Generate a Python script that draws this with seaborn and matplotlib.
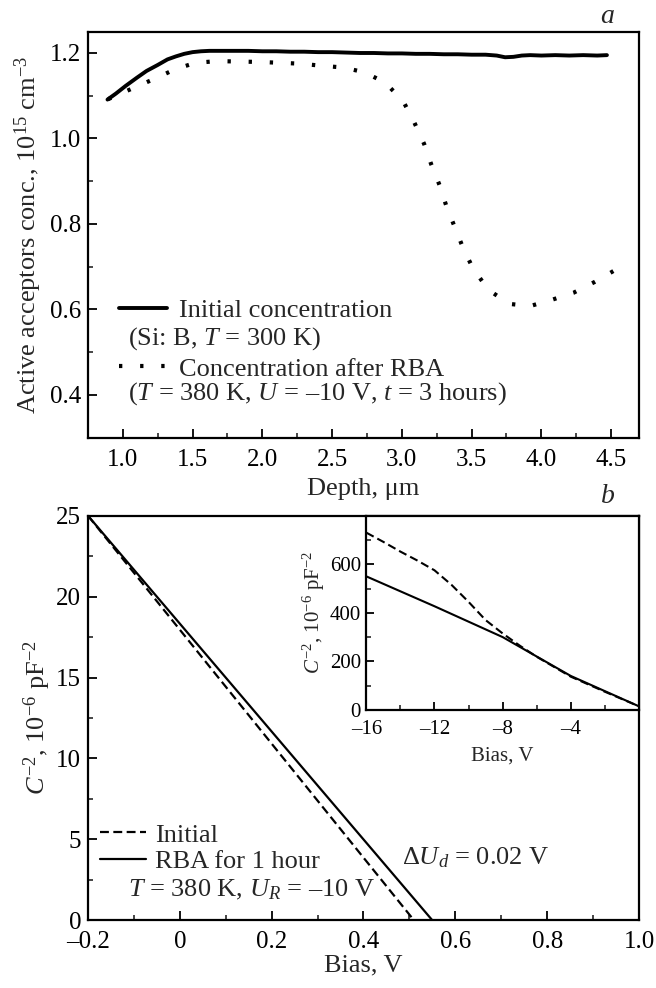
import numpy as np
import pandas as pd
import matplotlib
matplotlib.use("Agg")
import matplotlib.pyplot as plt
from matplotlib.ticker import MultipleLocator
import seaborn as sns

# ---------------- data: panel a ----------------
depth_init = [0.89, 0.95, 1.02, 1.10, 1.17, 1.25, 1.32, 1.38, 1.44, 1.50, 1.56, 1.62, 1.70,
              1.80, 1.90, 2.00, 2.10, 2.20, 2.30, 2.40, 2.50, 2.60, 2.70, 2.80, 2.90,
              3.00, 3.10, 3.20, 3.30, 3.40, 3.50, 3.60, 3.68, 3.74, 3.80, 3.86, 3.92,
              4.00, 4.10, 4.20, 4.30, 4.40, 4.47]
conc_init = [1.091, 1.105, 1.123, 1.142, 1.158, 1.172, 1.185, 1.192, 1.198, 1.202, 1.204, 1.205, 1.205,
             1.205, 1.205, 1.204, 1.204, 1.203, 1.203, 1.202, 1.202, 1.201, 1.200, 1.200, 1.199,
             1.199, 1.198, 1.198, 1.197, 1.197, 1.196, 1.196, 1.194, 1.190, 1.191, 1.194, 1.195,
             1.194, 1.195, 1.194, 1.195, 1.194, 1.195]
depth_rba = [0.895, 1.075, 1.23, 1.375, 1.52, 1.678, 1.83, 1.98, 2.13, 2.27, 2.43, 2.58, 2.73,
             2.88, 3.01, 3.09, 3.16, 3.21, 3.27, 3.32, 3.38, 3.44, 3.51, 3.62, 3.77, 3.92,
             4.07, 4.23, 4.38, 4.57]
conc_rba = [1.092, 1.118, 1.140, 1.162, 1.177, 1.181, 1.180, 1.179, 1.177, 1.175, 1.170, 1.166, 1.155,
            1.131, 1.087, 1.037, 0.987, 0.940, 0.891, 0.841, 0.792, 0.743, 0.696, 0.646, 0.613, 0.608,
            0.622, 0.639, 0.664, 0.700]
xticks_a = [1.0, 1.5, 2.0, 2.5, 3.0, 3.5, 4.0, 4.5]
yticks_a = [0.4, 0.6, 0.8, 1.0, 1.2]

# ---------------- data: panel b ----------------
bias_init = [-0.2, 0.51]
c2_init = [25.0, 0.0]
bias_rba = [-0.2, 0.55]
c2_rba = [25.0, 0.0]
xticks_b = [-0.2, 0.0, 0.2, 0.4, 0.6, 0.8, 1.0]
xticklabels_b = ["\u20130.2", "0", "0.2", "0.4", "0.6", "0.8", "1.0"]
yticks_b = [0, 5, 10, 15, 20, 25]

# inset
ibias_init = [-16, -15, -14, -13, -12, -11, -10, -9, -8, -7, -6, -5, -4, -2, 0]
ic2_init = [730, 692, 652, 615, 575, 515, 445, 370, 315, 265, 219, 178, 137, 75, 15]
ibias_rba = [-16, -12, -8, -4, 0]
ic2_rba = [550, 427, 300, 140, 15]
xticks_in = [-16, -12, -8, -4]
xticklabels_in = ["\u201316", "\u201312", "\u20138", "\u20134"]
yticks_in = [0, 200, 400, 600]

sns.set_theme(style="ticks")
plt.rcParams["font.family"] = ["Liberation Serif", "DejaVu Serif"]
plt.rcParams["mathtext.fontset"] = "custom"
plt.rcParams["mathtext.rm"] = "Liberation Serif"
plt.rcParams["mathtext.it"] = "Liberation Serif:italic"
plt.rcParams["mathtext.bf"] = "Liberation Serif:bold"
plt.rcParams["axes.unicode_minus"] = False

FS = 19
FT = 18
FI = 15
fig = plt.figure(figsize=(6.56, 9.88), dpi=100)
ax1 = fig.add_axes([0.1341, 0.557, 0.840, 0.411])
ax2 = fig.add_axes([0.1341, 0.0685, 0.840, 0.4095])
axin = fig.add_axes([0.5584, 0.2814, 0.4157, 0.1967])

def style(ax, fs, major_len=6.5, minor_len=3.6):
    for s in ax.spines.values():
        s.set_linewidth(1.6)
        s.set_color("black")
    ax.tick_params(which="major", direction="in", length=major_len, width=1.3,
                   labelsize=fs, colors="black", top=False, right=False, pad=5)
    ax.tick_params(which="minor", direction="in", length=minor_len, width=1.2,
                   top=False, right=False)
    ax.tick_params(axis="x", which="major", pad=8)

# ---- panel a ----
dfa1 = pd.DataFrame({"x": depth_init, "y": conc_init})
dfa2 = pd.DataFrame({"x": depth_rba, "y": conc_rba})
sns.lineplot(data=dfa1, x="x", y="y", ax=ax1, color="black", lw=2.8, sort=False,
             label="Initial concentration")
sns.lineplot(data=dfa2, x="x", y="y", ax=ax1, color="black", lw=3.0, sort=False,
             linestyle=(0, (0.8, 4.27)), label="Concentration after RBA")
ax1.set_xlim(0.75, 4.70)
ax1.set_ylim(0.3, 1.25)
ax1.set_xticks(xticks_a)
ax1.set_xticklabels([f"{v:.1f}" for v in xticks_a])
ax1.set_yticks(yticks_a)
ax1.set_yticklabels([f"{v:.1f}" for v in yticks_a])
ax1.xaxis.set_minor_locator(MultipleLocator(0.25))
ax1.yaxis.set_minor_locator(MultipleLocator(0.1))
style(ax1, FT)
ax1.set_xlabel("Depth, \u03bcm", fontsize=FS, labelpad=5)
ax1.set_ylabel("Active acceptors conc., 10$^{15}$ cm$^{-3}$", fontsize=FS, labelpad=4)
ax1.legend(loc="upper left", bbox_to_anchor=(0.0376, 0.3675), frameon=False,
           fontsize=FS, handlelength=1.82, handletextpad=0.45, labelspacing=1.31,
           borderaxespad=0)
ax1.text(0.072, 0.243, "(Si: B, $T$ = 300 K)", transform=ax1.transAxes, fontsize=FS,
         va="center", ha="left")
ax1.text(0.072, 0.1076, "($T$ = 380 K, $U$ = \u201310 V, $t$ = 3 hours)", transform=ax1.transAxes,
         fontsize=FS, va="center", ha="left")
fig.text(0.926, 0.9828, "$a$", fontsize=FS + 1, va="center", ha="center")

# ---- panel b ----
dfb1 = pd.DataFrame({"x": bias_init, "y": c2_init})
dfb2 = pd.DataFrame({"x": bias_rba, "y": c2_rba})
sns.lineplot(data=dfb1, x="x", y="y", ax=ax2, color="black", lw=1.6, sort=False,
             linestyle=(0, (4, 2)), label="Initial")
sns.lineplot(data=dfb2, x="x", y="y", ax=ax2, color="black", lw=1.6, sort=False,
             label="RBA for 1 hour")
ax2.set_xlim(-0.2, 1.0)
ax2.set_ylim(0, 25)
ax2.set_xticks(xticks_b)
ax2.set_xticklabels(xticklabels_b)
ax2.set_yticks(yticks_b)
ax2.xaxis.set_minor_locator(MultipleLocator(0.1))
ax2.yaxis.set_minor_locator(MultipleLocator(2.5))
style(ax2, FT)
ax2.set_xlabel("Bias, V", fontsize=FS, labelpad=1)
ax2.set_ylabel("$C^{-2}$, 10$^{-6}$ pF$^{-2}$", fontsize=FS, labelpad=2)
ax2.legend(loc="upper left", bbox_to_anchor=(0.0034, 0.2664), frameon=False, fontsize=FS,
           handlelength=1.74, handletextpad=0.32, labelspacing=0.13, borderaxespad=0)
ax2.text(0.072, 0.075, "$T$ = 380 K, $U_R$ = \u201310 V", transform=ax2.transAxes,
         fontsize=FS, va="center", ha="left")
ax2.text(0.5695, 0.154, "$\\Delta U_d$ = 0.02 V", transform=ax2.transAxes,
         fontsize=FS, va="center", ha="left")
fig.text(0.926, 0.497, "$b$", fontsize=FS + 1, va="center", ha="center")

# ---- inset ----
dfi1 = pd.DataFrame({"x": ibias_init, "y": ic2_init})
dfi2 = pd.DataFrame({"x": ibias_rba, "y": ic2_rba})
sns.lineplot(data=dfi1, x="x", y="y", ax=axin, color="black", lw=1.5, sort=False,
             linestyle=(0, (4, 2)), legend=False)
sns.lineplot(data=dfi2, x="x", y="y", ax=axin, color="black", lw=1.5, sort=False,
             legend=False)
axin.set_xlim(-16, 0)
axin.set_ylim(0, 800)
axin.set_xticks(xticks_in)
axin.set_xticklabels(xticklabels_in)
axin.set_yticks(yticks_in)
axin.xaxis.set_minor_locator(MultipleLocator(2))
axin.yaxis.set_minor_locator(MultipleLocator(100))
style(axin, FI, major_len=5.5, minor_len=3.5)
axin.tick_params(axis="y", which="major", pad=4)
axin.tick_params(axis="x", which="major", pad=7)
axin.set_xlabel("Bias, V", fontsize=FI, labelpad=6)
axin.set_ylabel("$C^{-2}$, 10$^{-6}$ pF$^{-2}$", fontsize=FI, labelpad=2)

fig.savefig("out.png", dpi=100)
